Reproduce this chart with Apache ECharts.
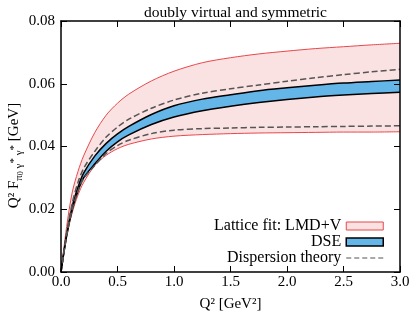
<!DOCTYPE html>
<html>
<head>
<meta charset="utf-8">
<script src="https://cdn.jsdelivr.net/npm/echarts@6/dist/echarts.min.js"></script>
<style>html,body{margin:0;padding:0;background:#fff}#c{width:415px;height:312px}</style>
</head>
<body>
<div id="c"></div>
<script>
var q2 =            [0, 0.05,   0.1,    0.15,   0.2,    0.3,    0.4,    0.5,    0.6,    0.8,    1.0,    1.25,   1.5,    1.75,   2.0,    2.25,   2.5,    2.75,   3.0];
var latticeUpper =  [0, 0.0145, 0.0255, 0.0320, 0.0370, 0.0445, 0.0500, 0.0538, 0.0567, 0.0609, 0.0640, 0.0667, 0.0683, 0.0695, 0.0704, 0.0712, 0.0718, 0.0724, 0.0729];
var latticeLower =  [0, 0.0115, 0.0190, 0.0245, 0.0285, 0.0340, 0.0372, 0.0393, 0.0407, 0.0424, 0.0433, 0.0438, 0.0441, 0.0443, 0.0444, 0.0445, 0.0446, 0.0446, 0.0447];
var dseUpper =      [0, 0.0120, 0.0210, 0.0270, 0.0315, 0.0370, 0.0410, 0.0440, 0.0464, 0.0502, 0.0530, 0.0551, 0.0565, 0.0578, 0.0587, 0.0595, 0.0602, 0.0607, 0.0612];
var dseLower =      [0, 0.0115, 0.0200, 0.0258, 0.0300, 0.0345, 0.0385, 0.0415, 0.0437, 0.0470, 0.0494, 0.0514, 0.0528, 0.0540, 0.0550, 0.0558, 0.0564, 0.0569, 0.0573];
var dispUpper =     [0, 0.0125, 0.0220, 0.0285, 0.0330, 0.0385, 0.0430, 0.0462, 0.0487, 0.0522, 0.0548, 0.0570, 0.0584, 0.0596, 0.0608, 0.0619, 0.0629, 0.0638, 0.0646];
var dispLower =     [0, 0.0115, 0.0200, 0.0258, 0.0298, 0.0340, 0.0378, 0.0403, 0.0420, 0.0441, 0.0452, 0.0457, 0.0459, 0.0461, 0.0462, 0.0463, 0.0464, 0.0465, 0.0466];
var xTicks = ['0.0','0.5','1.0','1.5','2.0','2.5','3.0'];
var yTicks = ['0.00','0.02','0.04','0.06','0.08'];

function pts(arr){ return q2.map(function(x,i){ return [x, arr[i]]; }); }

var FONT = 'Liberation Serif';
var RED = '#e8474b', PINK = '#fbe2e2', BLUE = '#64b5e8', DASH = '#555555';
var common = {type:'line', symbol:'none', smooth:0.3, animation:false, silent:true};
function S(o){ var r = {}; for (var k in common) r[k]=common[k]; for (var k2 in o) r[k2]=o[k2]; return r; }
function fill(name, arr, color, z){ return S({name:name, data:pts(arr), lineStyle:{width:0, opacity:0}, areaStyle:{color:color, opacity:1, origin:'start'}, z:z}); }

function tick(){ return {show:true, inside:true, length:6, interval:0, lineStyle:{color:'#000', width:1, opacity:1}}; }
function line(){ return {show:true, onZero:false, lineStyle:{color:'#000', width:1.5}}; }
var chart = echarts.init(document.getElementById('c'), null, {renderer:'canvas'});
chart.setOption({
  animation:false,
  title:{text:'doubly virtual and symmetric', left:230.5, textAlign:'center', top:0,
    textStyle:{fontFamily:FONT, fontSize:15.5, fontWeight:'normal', color:'#000'}},
  grid:{left:61, right:15, top:21, bottom:40, containLabel:false, outerBoundsMode:'none'},
  legend:{
    orient:'vertical', right:26, top:213, align:'right', itemWidth:37, itemHeight:8, itemGap:0, z:30,
    textStyle:{fontFamily:FONT, fontSize:16, color:'#000'},
    selectedMode:false,
    data:[
      {name:'Lattice fit: LMD+V', icon:'rect', itemStyle:{color:PINK, borderColor:RED, borderWidth:1}},
      {name:'DSE', icon:'rect', itemStyle:{color:BLUE, borderColor:'#000', borderWidth:1.5}},
      {name:'Dispersion theory', icon:'path://M0,0H5V1H0Z M8,0H13V1H8Z M16,0H21V1H16Z M24,0H29V1H24Z M32,0H37V1H32Z', itemStyle:{color:DASH}}
    ]
  },
  xAxis:[
    {type:'value', min:0, max:3, interval:0.5, position:'bottom', z:20,
     name:'Q² [GeV²]', nameLocation:'middle', nameGap:25, nameMoveOverlap:false,
     nameTextStyle:{fontFamily:FONT, fontSize:15, color:'#000'},
     axisLine:line(), axisTick:tick(),
     axisLabel:{fontFamily:FONT, fontSize:15, color:'#000', margin:3, formatter:function(v,i){return xTicks[i];}},
     splitLine:{show:false}},
    {type:'value', min:0, max:3, interval:0.5, position:'top', z:20,
     axisLine:line(), axisTick:tick(),
     axisLabel:{show:false}, splitLine:{show:false}}
  ],
  yAxis:[
    {type:'value', min:0, max:0.08, interval:0.02, position:'left', z:20,
     name:'{a|Q² F}{s|π}{ss|0}{s| γ}{st|*}{s| γ}{st|*}{a| [GeV]}', nameLocation:'middle', nameGap:36, nameRotate:90, nameMoveOverlap:false,
     nameTextStyle:{fontFamily:FONT, fontSize:15, color:'#000', padding:[0,18,0,0],
       rich:{
         a:{fontFamily:FONT, fontSize:15, color:'#000', lineHeight:22, verticalAlign:'middle'},
         s:{fontFamily:FONT, fontSize:11, color:'#000', lineHeight:11, verticalAlign:'bottom'},
         ss:{fontFamily:FONT, fontSize:8, color:'#000', lineHeight:6, verticalAlign:'bottom'},
         st:{fontFamily:FONT, fontSize:11, color:'#000', lineHeight:14, verticalAlign:'middle'}
       }},
     axisLine:line(), axisTick:tick(),
     axisLabel:{fontFamily:FONT, fontSize:15, color:'#000', margin:6, formatter:function(v,i){return yTicks[i];}},
     splitLine:{show:false}},
    {type:'value', min:0, max:0.08, interval:0.02, position:'right', z:20,
     axisLine:line(), axisTick:tick(),
     axisLabel:{show:false}, splitLine:{show:false}}
  ],
  series:[
    fill('Lattice fit: LMD+V', latticeUpper, PINK, 1),
    fill('DSE', dseUpper, BLUE, 2),
    fill('dseUnder', dseLower, PINK, 3),
    fill('latUnder', latticeLower, '#ffffff', 4),
    S({name:'latUp', data:pts(latticeUpper), lineStyle:{color:RED, width:1}, z:5}),
    S({name:'latLo', data:pts(latticeLower), lineStyle:{color:RED, width:1}, z:5}),
    S({name:'dseUp', data:pts(dseUpper), lineStyle:{color:'#000', width:1.5}, z:6}),
    S({name:'dseLo', data:pts(dseLower), lineStyle:{color:'#000', width:1.5}, z:6}),
    S({name:'Dispersion theory', data:pts(dispUpper), lineStyle:{color:DASH, width:1.5, type:[6,3]}, z:7}),
    S({name:'dispLo', data:pts(dispLower), lineStyle:{color:DASH, width:1.5, type:[6,3]}, z:7})
  ]
});
</script>
</body>
</html>
